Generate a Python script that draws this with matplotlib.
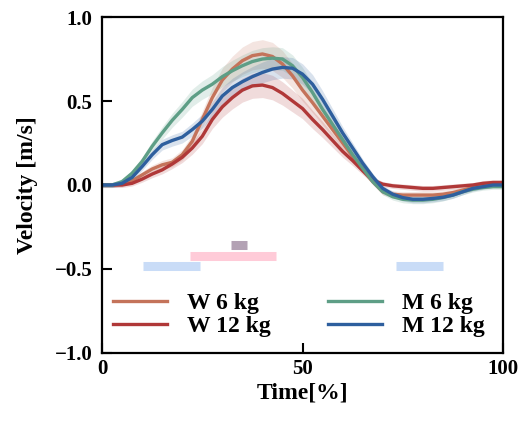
import numpy as np
import matplotlib
matplotlib.use("Agg")
import matplotlib.pyplot as plt

time_pct = [0, 2.5, 5, 7.5, 10, 12.5, 15, 17.5, 20, 22.5, 25, 27.5, 30, 32.5, 35, 37.5,
            40, 42.5, 45, 47.5, 50, 52.5, 55, 57.5, 60, 62.5, 65, 67.5, 70, 72.5, 75,
            77.5, 80, 82.5, 85, 87.5, 90, 92.5, 95, 97.5, 100]

w6 = [0, 0, 0.005, 0.025, 0.06, 0.095, 0.12, 0.135, 0.18, 0.26, 0.39, 0.52, 0.625, 0.69,
      0.74, 0.77, 0.78, 0.765, 0.72, 0.65, 0.565, 0.49, 0.41, 0.33, 0.25, 0.17, 0.09,
      0.02, -0.04, -0.055, -0.06, -0.06, -0.06, -0.06, -0.055, -0.045, -0.03, -0.015,
      0.0, 0.01, 0.01]
w12 = [0, 0, 0.0, 0.01, 0.035, 0.065, 0.09, 0.125, 0.165, 0.22, 0.29, 0.39, 0.465, 0.52,
       0.565, 0.59, 0.595, 0.58, 0.545, 0.50, 0.455, 0.39, 0.33, 0.265, 0.20, 0.145,
       0.085, 0.03, 0.005, -0.005, -0.01, -0.015, -0.02, -0.02, -0.015, -0.01, -0.005,
       0.0, 0.01, 0.015, 0.015]
m6 = [0, 0, 0.02, 0.07, 0.14, 0.23, 0.31, 0.385, 0.45, 0.52, 0.565, 0.60, 0.645, 0.68,
      0.71, 0.735, 0.75, 0.755, 0.75, 0.71, 0.64, 0.55, 0.45, 0.36, 0.27, 0.18, 0.10,
      0.02, -0.04, -0.07, -0.085, -0.09, -0.09, -0.085, -0.075, -0.06, -0.04, -0.025,
      -0.015, -0.01, -0.01]
m12 = [0, 0, 0.01, 0.045, 0.11, 0.18, 0.24, 0.265, 0.285, 0.33, 0.38, 0.45, 0.53, 0.58,
       0.615, 0.645, 0.67, 0.69, 0.70, 0.695, 0.66, 0.60, 0.51, 0.41, 0.31, 0.22, 0.13,
       0.05, -0.02, -0.055, -0.075, -0.085, -0.085, -0.08, -0.073, -0.06, -0.04, -0.02,
       -0.01, 0.0, 0.0]

labels = ["W 6 kg", "W 12 kg", "M 6 kg", "M 12 kg"]
colors = ["#c4735a", "#b03838", "#5e9e86", "#2e5f9e"]
band_scale = [0.09, 0.10, 0.07, 0.07]

# significance bars: (start %, end %, y level, colour)
bar_start = [10.1, 73.3, 22.0, 32.2]
bar_end = [24.4, 85.1, 43.4, 36.2]
bar_y = [-0.48, -0.48, -0.42, -0.36]
bar_colors = ["#c9dcf7", "#c9dcf7", "#ffcbd8", "#b3a2b4"]

plt.rcParams["font.family"] = ["Liberation Serif", "DejaVu Serif"]
plt.rcParams["font.weight"] = "bold"

fig = plt.figure(figsize=(5.24, 4.23), dpi=100)
ax = fig.add_axes([0.1947, 0.1655, 0.7653, 0.7943])

x = np.array(time_pct)
for ys, lab, c, bs in zip([w6, w12, m6, m12], labels, colors, band_scale):
    y = np.array(ys)
    hw = 0.015 + bs * np.abs(y)
    ax.fill_between(x, y - hw, y + hw, color=c, alpha=0.18, linewidth=0)
    ax.plot(x, y, color=c, lw=2.4, label=lab)

for s, e, yy, c in zip(bar_start, bar_end, bar_y, bar_colors):
    ax.plot([s, e], [yy, yy], color=c, lw=6.5, solid_capstyle="butt")

ax.set_xlim(0, 100)
ax.set_ylim(-1.0, 1.0)
ax.set_xticks([0, 50, 100])
ax.set_yticks([-1.0, -0.5, 0.0, 0.5, 1.0])
ax.tick_params(direction="in", length=7, width=1.5, labelsize=15, pad=4)
ax.tick_params(axis="y", pad=7)
for t in ax.get_xticklabels() + ax.get_yticklabels():
    t.set_fontweight("bold")
for sp in ax.spines.values():
    sp.set_linewidth(1.6)

ax.set_xlabel("Time[%]", fontsize=17, fontweight="bold", labelpad=3)
ax.set_ylabel("Velocity [m/s]", fontsize=17, fontweight="bold", labelpad=12)

leg = ax.legend(ncol=2, loc="lower center", frameon=False, fontsize=17,
                handlelength=2.3, columnspacing=2.4, labelspacing=0.05,
                bbox_to_anchor=(0.491, -0.015), handletextpad=0.85)
for t in leg.get_texts():
    t.set_fontweight("bold")

fig.savefig("out.png", dpi=100)
